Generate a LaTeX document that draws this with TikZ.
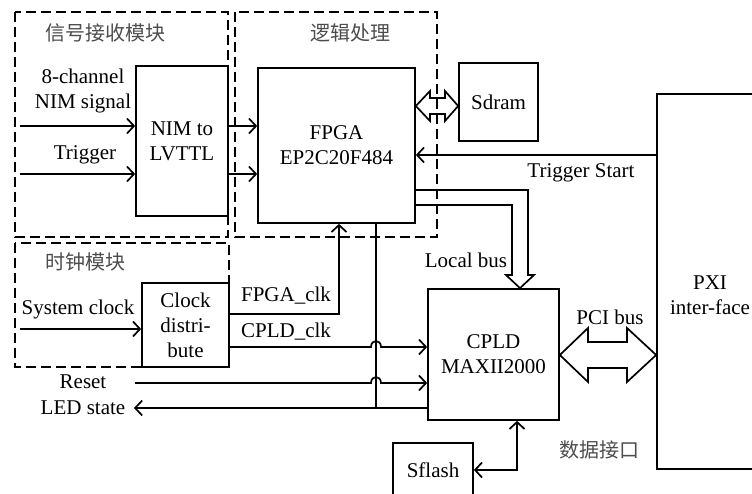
\documentclass[tikz,border=0pt]{standalone}
\usepackage{fontspec}
\setmainfont{Liberation Serif}
\newfontfamily\cjk{Noto Sans CJK SC}
\usetikzlibrary{arrows.meta,calc}
\begin{document}
\begin{tikzpicture}[x=1pt,y=-1pt,
  every node/.style={font=\fontsize{21}{25}\selectfont, inner sep=0pt},
  blk/.style={draw, line width=1.7pt, align=center},
  lbl/.style={align=center},
  cn/.style={font=\cjk\fontsize{20}{24}\selectfont, text=black!70},
  grp/.style={draw, line width=1.7pt, dash pattern=on 10pt off 5pt},
  ln/.style={line width=1.7pt},
  arr/.style={line width=1.7pt, -{Straight Barb[length=7pt,width=15pt,line width=1.7pt]}},
  darr/.style={line width=1.7pt, {Straight Barb[length=7pt,width=15pt,line width=1.7pt]}-{Straight Barb[length=7pt,width=15pt,line width=1.7pt]}},
  hol/.style={line width=1.7pt, line join=miter}
]
\useasboundingbox (0,0) rectangle (752,494);
\clip (0,0) rectangle (752,494);

% group boxes
\draw[grp] (15,12) rectangle (228,237);
\draw[grp] (235,12) rectangle (437,237);
\draw[grp] (15,243) rectangle (229,367);
\node[cn] (t1) at (105,33) {信号接收模块};
\node[cn] (t2) at (350,33) {逻辑处理};
\node[cn] (t3) at (85,262) {时钟模块};

% blocks
\node[blk, minimum width=92pt, minimum height=150pt] (nim) at (182,141) {NIM to\\LVTTL};
\node[blk, minimum width=157pt, minimum height=155pt] (fpga) at (336.5,145.5) {FPGA\\EP2C20F484};
\node[blk, minimum width=79pt, minimum height=78pt] (sdram) at (498.5,102) {Sdram};
\node[blk, minimum width=106pt, minimum height=375pt] (pxi) at (710,281.5) {};
\node[lbl] (pxit) at (710,295) {PXI\\inter-face};
\node[blk, minimum width=131pt, minimum height=131pt] (cpld) at (493.5,354.5) {CPLD\\MAXII2000};
\node[blk, minimum width=87pt, minimum height=84pt] (clk) at (185.5,325) {Clock\\distri-\\bute};
\node[blk, minimum width=80pt, minimum height=54pt] (sflash) at (433,470) {Sflash};

% labels
\node[lbl] (l8) at (83,90.5) {8-channel\\NIM signal};
\node[lbl] (ltrig) at (85,155) {Trigger};
\node[lbl] (lsys) at (78,309) {System clock};
\node[lbl] (lfclk) at (286,296) {FPGA\_clk};
\node[lbl] (lcclk) at (286,332) {CPLD\_clk};
\node[lbl] (lrst) at (83,382) {Reset};
\node[lbl] (lled) at (83,408) {LED state};
\node[lbl] (llb) at (466,260) {Local bus};
\node[lbl] (lts) at (581,173) {Trigger Start};
\node[lbl] (lpci) at (610,317) {PCI bus};
\node[cn] (ldi) at (599,450) {数据接口};

% free ends
\coordinate (in8) at (20,126);
\coordinate (intr) at (20,174);
\coordinate (insys) at (20,329);
\coordinate (inrst) at (135,383);
\coordinate (outled) at (134,408);

% inputs
\draw[arr] (in8) -- (nim.west |- in8);
\draw[arr] (intr) -- (nim.west |- intr);
\draw[arr] (nim.east |- in8) -- (fpga.west |- in8);
\draw[arr] (nim.east |- intr) -- (fpga.west |- intr);
\draw[arr] (insys) -- (clk.west |- insys);

% clocks
\draw[arr] (clk.east |- 0,314) -| (339,0 |- fpga.south);
\draw[arr] (clk.east |- 0,347) -- (371,347) .. controls (371,339) and (381,339) .. (381,347) -- (cpld.west |- 0,347);
\draw[arr] (inrst) -- (371,383) .. controls (371,375) and (381,375) .. (381,383) -- (cpld.west |- 0,383);
\draw[arr] (cpld.west |- outled) -- (outled);
\draw[ln] (376,0 |- fpga.south) -- (376,408);

% trigger start
\draw[arr] (pxi.west |- 0,155) -- (fpga.east |- 0,155);

% sdram double hollow arrow
\draw[hol] (fpga.east |- 0,106) -- (430,91) -- (430,98) -- (445,98) -- (445,91) -- (sdram.west |- 0,106)
  -- (445,121) -- (445,114) -- (430,114) -- (430,121) -- cycle;

% local bus hollow arrow
\draw[hol] (fpga.east |- 0,190) -- (528,190) -- (528,275) -- (534,275) -- (520,0 |- cpld.north)
  -- (506,275) -- (512,275) -- (512,205) -- (fpga.east |- 0,205);

% PCI bus
\draw[hol] (cpld.east |- 0,355) -- (588,328) -- (588,342) -- (627,342) -- (627,328) -- (pxi.west |- 0,355)
  -- (627,382) -- (627,368) -- (588,368) -- (588,382) -- cycle;

% sflash
\draw[darr] (517,0 |- cpld.south) |- (sflash.east);
\end{tikzpicture}
\end{document}
